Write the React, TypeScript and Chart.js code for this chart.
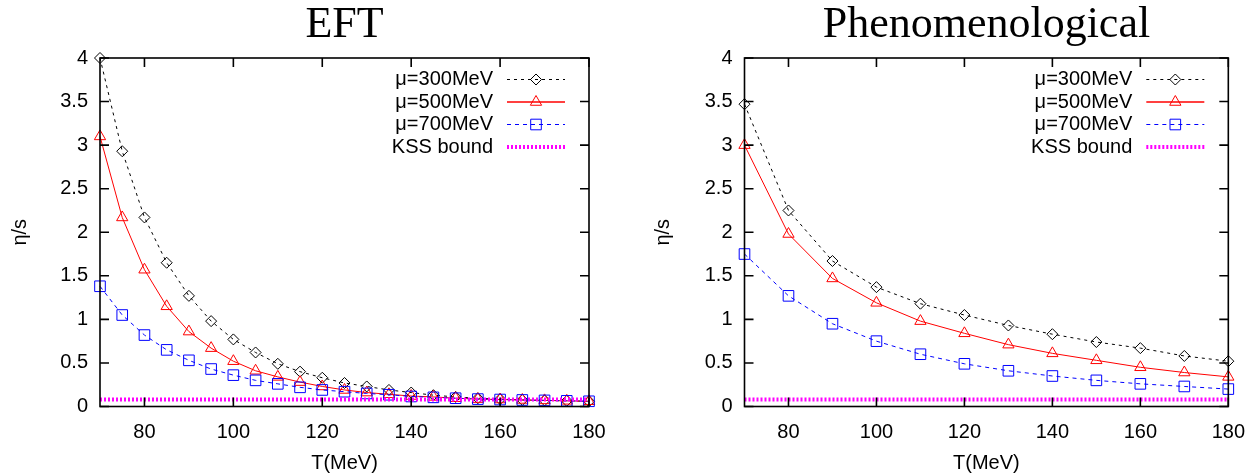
import React, { useEffect, useRef } from "react";
import { Chart, registerables } from "chart.js";

Chart.register(...registerables);

// ---------- data ----------
const eftT = [70, 75, 80, 85, 90, 95, 100, 105, 110, 115, 120, 125, 130, 135, 140, 145, 150, 155, 160, 165, 170, 175, 180];
const eft300 = [4.0, 2.93, 2.17, 1.65, 1.27, 0.98, 0.77, 0.62, 0.49, 0.40, 0.33, 0.27, 0.23, 0.19, 0.16, 0.13, 0.11, 0.095, 0.085, 0.075, 0.07, 0.065, 0.06];
const eft500 = [3.1, 2.17, 1.57, 1.15, 0.86, 0.67, 0.52, 0.41, 0.34, 0.28, 0.23, 0.19, 0.16, 0.14, 0.12, 0.11, 0.095, 0.085, 0.08, 0.075, 0.07, 0.065, 0.06];
const eft700 = [1.38, 1.05, 0.82, 0.65, 0.53, 0.43, 0.36, 0.30, 0.26, 0.22, 0.19, 0.17, 0.15, 0.135, 0.115, 0.105, 0.095, 0.085, 0.08, 0.075, 0.07, 0.065, 0.06];

const phenoT = [70, 80, 90, 100, 110, 120, 130, 140, 150, 160, 170, 180];
const pheno300 = [3.47, 2.25, 1.67, 1.37, 1.18, 1.05, 0.93, 0.83, 0.74, 0.67, 0.58, 0.52];
const pheno500 = [3.0, 1.98, 1.47, 1.19, 0.98, 0.84, 0.71, 0.61, 0.53, 0.45, 0.39, 0.34];
const pheno700 = [1.75, 1.27, 0.95, 0.75, 0.60, 0.49, 0.41, 0.35, 0.30, 0.26, 0.23, 0.20];

const kssValue = 0.0796;
const kssRange = [70, 180];

const xTicks = [80, 100, 120, 140, 160, 180];
const yTicks = [0, 0.5, 1, 1.5, 2, 2.5, 3, 3.5, 4];
const seriesLabels = ["\u03bc=300MeV", "\u03bc=500MeV", "\u03bc=700MeV", "KSS bound"];
const panelTitles = ["EFT", "Phenomenological"];
const xTitle = "T(MeV)";
const yTitle = "\u03b7/s";

// ---------- styles ----------
const SANS = "'Liberation Sans', Arial, sans-serif";
const SERIF = "'Liberation Serif', 'Times New Roman', serif";
const seriesStyles = [
  { color: "#000000", dash: [3, 4], width: 1, point: "rectRot", radius: 5.5 },
  { color: "#ff0000", dash: [], width: 1, point: "triangle", radius: 6.5 },
  { color: "#0000ff", dash: [4, 4], width: 1, point: "rect", radius: 7.5 },
  { color: "#ff00ff", dash: [2, 2], width: 4, point: false, radius: 0 },
];

const framePlugin = {
  id: "frameAndLegend",
  afterDatasetsDraw(chart: any) {
    const { ctx, chartArea } = chart;
    const { left, right, top, bottom } = chartArea;
    const xs = chart.scales.x;
    const ys = chart.scales.y;
    ctx.save();
    ctx.strokeStyle = "#000";
    ctx.lineWidth = 1.6;
    ctx.setLineDash([]);
    ctx.strokeRect(left, top, right - left, bottom - top);
    const tl = 9;
    ctx.beginPath();
    for (const v of yTicks) {
      const y = ys.getPixelForValue(v);
      ctx.moveTo(left, y);
      ctx.lineTo(left + tl, y);
      ctx.moveTo(right, y);
      ctx.lineTo(right - tl, y);
    }
    for (const v of xTicks) {
      const x = xs.getPixelForValue(v);
      ctx.moveTo(x, bottom);
      ctx.lineTo(x, bottom - tl);
      ctx.moveTo(x, top);
      ctx.lineTo(x, top + tl);
    }
    ctx.stroke();

    // title
    const opts = chart.options.plugins.frameAndLegend;
    ctx.fillStyle = "#000";
    ctx.font = `44px ${SERIF}`;
    ctx.textAlign = "center";
    ctx.textBaseline = "middle";
    ctx.fillText(opts.title, (left + right) / 2, 25);

    // legend
    ctx.font = `20px ${SANS}`;
    ctx.textAlign = "right";
    for (let i = 0; i < seriesLabels.length; i++) {
      const y = 79.5 + i * 22.5;
      const st = seriesStyles[i];
      ctx.fillStyle = "#000";
      ctx.fillText(seriesLabels[i], right - 96, y);
      const x0 = right - 82;
      const x1 = right - 24;
      ctx.save();
      ctx.strokeStyle = st.color;
      ctx.lineWidth = i === 1 ? 1.5 : st.width;
      ctx.setLineDash(st.dash);
      ctx.beginPath();
      ctx.moveTo(x0, y);
      ctx.lineTo(x1, y);
      ctx.stroke();
      ctx.restore();
      if (st.point) {
        ctx.save();
        ctx.strokeStyle = st.color;
        ctx.lineWidth = 1;
        ctx.setLineDash([]);
        // clear background under marker like gnuplot keeps line through; just draw outline
        (Chart as any).helpers?.drawPoint;
        drawMarker(ctx, st.point as string, st.radius, (x0 + x1) / 2, y);
        ctx.restore();
      }
    }
    ctx.restore();
  },
};

function drawMarker(ctx: CanvasRenderingContext2D, style: string, r: number, x: number, y: number) {
  ctx.beginPath();
  if (style === "rectRot") {
    ctx.moveTo(x, y - r);
    ctx.lineTo(x + r, y);
    ctx.lineTo(x, y + r);
    ctx.lineTo(x - r, y);
    ctx.closePath();
  } else if (style === "triangle") {
    const a = -Math.PI / 2;
    for (let k = 0; k < 3; k++) {
      const ang = a + (k * 2 * Math.PI) / 3;
      const px = x + r * Math.cos(ang);
      const py = y + r * Math.sin(ang);
      if (k === 0) ctx.moveTo(px, py);
      else ctx.lineTo(px, py);
    }
    ctx.closePath();
  } else if (style === "rect") {
    const s = r * Math.SQRT1_2;
    ctx.rect(x - s, y - s, 2 * s, 2 * s);
  }
  ctx.stroke();
}

function makeConfig(idx: number, T: number[], s300: number[], s500: number[], s700: number[], geom: any) {
  const series = [s300, s500, s700];
  const datasets: any[] = series.map((arr, i) => {
    const st = seriesStyles[i];
    return {
      label: seriesLabels[i],
      data: T.map((t, k) => ({ x: t, y: arr[k] })),
      borderColor: st.color,
      borderWidth: st.width,
      borderDash: st.dash,
      pointStyle: st.point,
      pointRadius: st.radius,
      pointBorderColor: st.color,
      pointBorderWidth: 1,
      pointBackgroundColor: "rgba(0,0,0,0)",
      tension: 0,
      clip: false,
      order: 3 - i,
    };
  });
  const kst = seriesStyles[3];
  datasets.push({
    label: seriesLabels[3],
    data: kssRange.map((t) => ({ x: t, y: kssValue })),
    borderColor: kst.color,
    borderWidth: kst.width,
    borderDash: kst.dash,
    pointRadius: 0,
    tension: 0,
    clip: false,
    order: 0,
  });

  return {
    type: "line",
    data: { datasets },
    plugins: [framePlugin],
    options: {
      animation: false,
      responsive: false,
      devicePixelRatio: 1,
      layout: { padding: { left: 0, right: geom.padRight, top: 58, bottom: 0 } },
      plugins: {
        legend: { display: false },
        title: { display: false },
        tooltip: { enabled: false },
        frameAndLegend: { title: panelTitles[idx] },
      },
      scales: {
        x: {
          type: "linear",
          min: 70,
          max: 180,
          grid: { display: false, drawTicks: false },
          border: { display: false },
          afterBuildTicks: (s: any) => {
            s.ticks = xTicks.map((v) => ({ value: v }));
          },
          afterFit: (s: any) => {
            s.height = 68.5;
          },
          ticks: {
            autoSkip: false,
            maxRotation: 0,
            padding: 14,
            color: "#000",
            font: { family: SANS, size: 20 },
            callback: (v: any) => String(v),
          },
          title: {
            display: true,
            text: xTitle,
            color: "#000",
            font: { family: SANS, size: 20 },
            padding: { top: 0, bottom: 0 },
          },
        },
        y: {
          type: "linear",
          min: 0,
          max: 4,
          grid: { display: false, drawTicks: false },
          border: { display: false },
          afterBuildTicks: (s: any) => {
            s.ticks = yTicks.map((v) => ({ value: v }));
          },
          afterFit: (s: any) => {
            s.width = geom.yWidth;
          },
          ticks: {
            autoSkip: false,
            padding: 12,
            color: "#000",
            font: { family: SANS, size: 20 },
            callback: (v: any) => String(v),
          },
          title: {
            display: true,
            text: yTitle,
            color: "#000",
            font: { family: SANS, size: 20 },
            padding: { top: geom.yTitlePad, bottom: 0 },
          },
        },
      },
    },
  };
}

function Panel(props: { idx: number; left: number; width: number; T: number[]; a: number[]; b: number[]; c: number[]; geom: any }) {
  const ref = useRef<HTMLCanvasElement | null>(null);
  useEffect(() => {
    if (!ref.current) return;
    const chart = new Chart(ref.current, makeConfig(props.idx, props.T, props.a, props.b, props.c, props.geom) as any);
    return () => chart.destroy();
  }, []);
  return (
    <canvas
      ref={ref}
      width={props.width}
      height={475}
      style={{ position: "absolute", left: props.left, top: 0, width: props.width, height: 475 }}
    />
  );
}

export default function App() {
  return (
    <div style={{ position: "absolute", left: 0, top: 0, width: 1259, height: 475, background: "#fff" }}>
      <Panel idx={0} left={0} width={629} T={eftT} a={eft300} b={eft500} c={eft700} geom={{ yWidth: 100, padRight: 40, yTitlePad: 8 }} />
      <Panel idx={1} left={629} width={630} T={phenoT} a={pheno300} b={pheno500} c={pheno700} geom={{ yWidth: 115.5, padRight: 26, yTitlePad: 22 }} />
    </div>
  );
}
